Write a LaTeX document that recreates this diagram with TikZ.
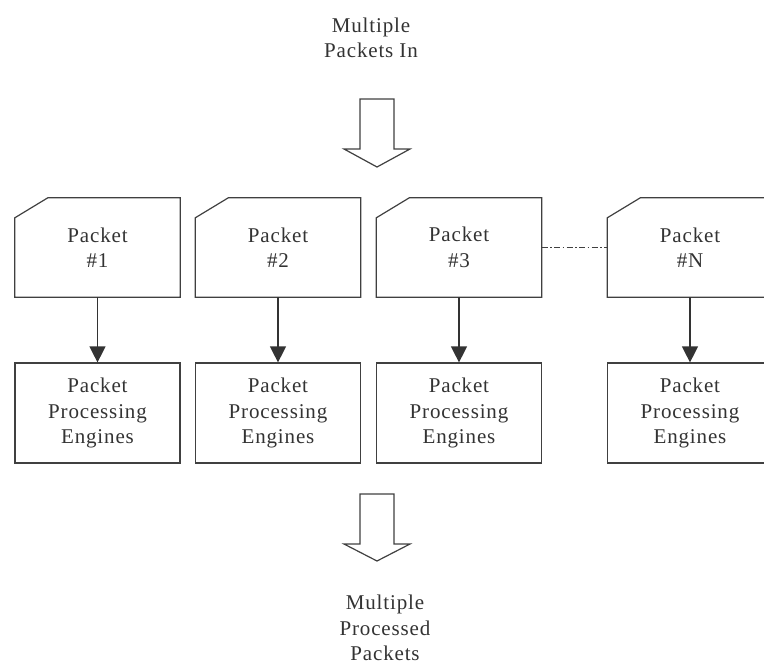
\documentclass[tikz,border=0pt]{standalone}
\usepackage{fontspec}
\setmainfont{Liberation Serif}[LetterSpace=4]
\usetikzlibrary{arrows.meta}
\begin{document}
\begin{tikzpicture}[x=1pt,y=-1pt,
  txt/.style={font=\fontsize{21}{25.5}\selectfont, text=black!80, align=center, inner sep=0pt},
  pkt/.style={txt, minimum width=165pt, minimum height=99pt},
  eng/.style={txt, draw=black!75, line width=1.2pt, minimum width=165pt, minimum height=100pt},
  outline/.style={draw=black!75, line width=1.2pt, line join=miter},
  link/.style={draw=black!80, line width=1.2pt, -{Triangle[length=16pt,width=16pt]}},
  dotdash/.style={draw=black!75, line width=1pt, dash pattern=on 6pt off 2.5pt on 1.5pt off 2.5pt},
  blockarrow/.style={draw=black!75, line width=1.2pt, fill=white, line join=miter}]

\useasboundingbox (0,0) rectangle (764,664);

% captions
\node[txt] (in)  at (371,38)    {Multiple\\Packets In};
\node[txt] (out) at (385,628) {Multiple\\Processed\\Packets};

% packets
\node[pkt] (p1) at (97.5,247.5) {Packet\\\#1};
\node[pkt] (p2) at (278,247.5)  {Packet\\\#2};
\node[pkt] (p3) at (459,247.5)  {Packet\\\#3};
\node[pkt] (pN) at (690,247.5)  {Packet\\\#N};
\foreach \n in {p1,p2,p3,pN}
  \draw[outline] ([yshift=-20pt]\n.north west) -- ([xshift=33pt]\n.north west)
    -- (\n.north east) -- (\n.south east) -- (\n.south west) -- cycle;

% processing engines
\node[eng] (e1) at (97.5,413) {Packet\\Processing\\Engines};
\node[eng] (e2) at (278,413)  {Packet\\Processing\\Engines};
\node[eng] (e3) at (459,413)  {Packet\\Processing\\Engines};
\node[eng] (eN) at (690,413)  {Packet\\Processing\\Engines};

% packet -> engine
\foreach \i in {1,2,3,N}
  \draw[link] (p\i.south) -- (e\i.north);

% elided packets
\draw[dotdash] (p3.east) -- (pN.west);

% incoming and outgoing block arrows
\draw[blockarrow] (360,99) -- (394,99) -- (394,149) -- (410,149) -- (377,167)
  -- (344,149) -- (360,149) -- cycle;
\draw[blockarrow] (360,494) -- (394,494) -- (394,544) -- (410,544) -- (377,561)
  -- (344,544) -- (360,544) -- cycle;
\end{tikzpicture}
\end{document}
